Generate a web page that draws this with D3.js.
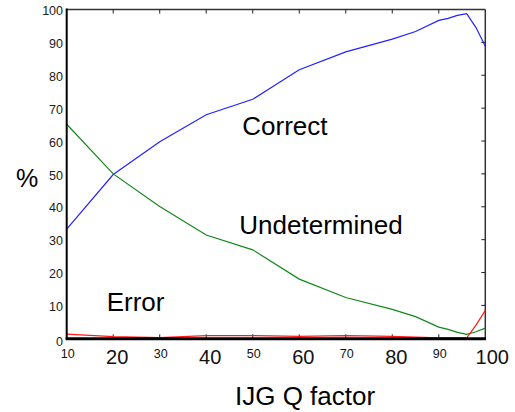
<!DOCTYPE html>
<html>
<head>
<meta charset="utf-8">
<script src="https://cdn.jsdelivr.net/npm/d3@7"></script>
<style>
  body { margin: 0; background: #fff; }
  svg { font-family: "Liberation Sans", Arial, sans-serif; }
</style>
</head>
<body>
<script>
var qFactor      = [10, 20, 30, 40, 50, 60, 70, 80, 85, 90, 92, 94, 96, 98, 100];
var correct      = [33.2, 49.8, 59.8, 68.0, 72.7, 81.7, 87.1, 91.0, 93.3, 96.7, 97.3, 98.2, 98.7, 94.5, 88.8];
var undetermined = [65.1, 50.0, 40.1, 31.4, 26.9, 18.0, 12.4, 8.8, 6.6, 3.4, 2.7, 1.8, 1.2, 2.0, 3.1];
var errorPct     = [1.3, 0.5, 0.2, 0.8, 0.8, 0.6, 0.8, 0.6, 0.4, 0.1, 0.1, 0.1, 0.1, 4.0, 8.5];

var xTicks = [10, 20, 30, 40, 50, 60, 70, 80, 90, 100];
var yTicks = [0, 10, 20, 30, 40, 50, 60, 70, 80, 90, 100];

var WIDTH  = 515;
var HEIGHT = 412;

var svg = d3.select('body')
            .append('svg')
            .attr('width', WIDTH)
            .attr('height', HEIGHT);

var x = d3.scaleLinear()
          .domain([10, 100])
          .range([66.7, 485.3]);

var y = d3.scaleLinear()
          .domain([0, 100])
          .range([338.3, 9.5]);

// frame: top and right thin, left and bottom heavy
svg.append('line')
   .attr('x1', x(10)).attr('x2', x(100))
   .attr('y1', y(100)).attr('y2', y(100))
   .attr('stroke', '#333').attr('stroke-width', 1.5);
svg.append('line')
   .attr('x1', x(100)).attr('x2', x(100))
   .attr('y1', y(100)).attr('y2', y(0))
   .attr('stroke', '#333').attr('stroke-width', 1.5);

// tick marks inside the frame
var inner = xTicks.slice(1, -1);
svg.selectAll('.ttop')
   .data(inner)
   .enter()
 .append('line')
   .attr('x1', x).attr('x2', x)
   .attr('y1', y(100)).attr('y2', y(100) + 4)
   .attr('stroke', '#222');
svg.selectAll('.tbot')
   .data(inner)
   .enter()
 .append('line')
   .attr('x1', x).attr('x2', x)
   .attr('y1', y(0)).attr('y2', y(0) - 4)
   .attr('stroke', '#222');
svg.selectAll('.tright')
   .data(yTicks.slice(1, -1))
   .enter()
 .append('line')
   .attr('x1', x(100)).attr('x2', x(100) - 4)
   .attr('y1', y).attr('y2', y)
   .attr('stroke', '#222');

// series
var series = [
  { values: correct,      color: '#2222ff' },
  { values: undetermined, color: '#11881a' },
  { values: errorPct,     color: '#ff1a1a' }
];

var line = d3.line()
             .x(function(d) { return x(d[0]); })
             .y(function(d) { return y(d[1]); });

series.forEach(function(s) {
  svg.append('path')
     .datum(qFactor.map(function(q, i) { return [q, s.values[i]]; }))
     .attr('d', line)
     .attr('fill', 'none')
     .attr('stroke', s.color)
     .attr('stroke-width', 1.2);
});

// heavy left and bottom axes
svg.append('line')
   .attr('x1', x(10)).attr('x2', x(10))
   .attr('y1', y(100) - 1).attr('y2', y(0) + 1.5)
   .attr('stroke', '#000').attr('stroke-width', 2);
svg.append('line')
   .attr('x1', x(10) - 1).attr('x2', x(100) + 0.75)
   .attr('y1', y(0) + 0.5).attr('y2', y(0) + 0.5)
   .attr('stroke', '#000').attr('stroke-width', 3);

// y tick labels
svg.selectAll('.ylab')
   .data(yTicks)
   .enter()
 .append('text')
   .attr('x', 63)
   .attr('y', function(d) { return y(d) + (d === 0 ? 7.5 : 5.7); })
   .attr('text-anchor', 'end')
   .attr('font-size', 12.5)
   .attr('fill', '#1a1a1a')
   .text(function(d) { return d; });

// x tick labels: alternate small / large
svg.selectAll('.xlab')
   .data(xTicks)
   .enter()
 .append('text')
   .attr('x', function(d, i) { return x(d) + (i % 2 ? (d === 100 ? 7 : 4) : 1); })
   .attr('y', function(d, i) { return i % 2 ? 364.3 : 358.3; })
   .attr('text-anchor', 'middle')
   .attr('font-size', function(d, i) { return i % 2 ? 20 : 12.5; })
   .attr('fill', '#111')
   .text(function(d) { return d; });

// titles and series labels
var labels = [
  { text: '%',            x: 16,    y: 187,   size: 25 },
  { text: 'Correct',      x: 242.3, y: 135,   size: 26 },
  { text: 'Undetermined', x: 239.3, y: 233.5, size: 26 },
  { text: 'Error',        x: 106.7, y: 311,   size: 26 },
  { text: 'IJG Q factor', x: 235,   y: 404.5, size: 26 }
];

svg.selectAll('.lab')
   .data(labels)
   .enter()
 .append('text')
   .attr('x', function(d) { return d.x; })
   .attr('y', function(d) { return d.y; })
   .attr('font-size', function(d) { return d.size; })
   .attr('fill', '#000')
   .text(function(d) { return d.text; });
</script>
</body>
</html>
